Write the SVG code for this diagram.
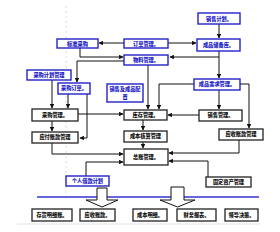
<svg xmlns="http://www.w3.org/2000/svg" width="280" height="232" viewBox="0 0 280 232">
<style>
.b rect{fill:#fff;stroke:#2323c8;stroke-width:1.4}
.k rect{fill:#fff;stroke:#222;stroke-width:1.3}
text{font-family:"Noto Sans CJK SC","Noto Sans",sans-serif;font-size:5.2px;font-weight:900;text-anchor:middle}
.b text{fill:#2323c8}
.k text{fill:#111}
#connectors path{fill:none;stroke:#111;stroke-width:1}
.blk{fill:#fff;stroke:#111;stroke-width:1}
</style>
<defs>
<marker id="ah" viewBox="0 0 8 8" refX="7" refY="4" markerWidth="4.5" markerHeight="4.5" orient="auto" markerUnits="userSpaceOnUse">
<path d="M0,0 L8,4 L0,8 z" fill="#111"/>
</marker>
</defs>
<rect width="280" height="232" fill="#fff"/>
<line x1="66" y1="6" x2="66" y2="200" stroke="#cfcfcf" stroke-width="0.8" stroke-dasharray="2,3"/>
<line x1="17" y1="224" x2="260" y2="224" stroke="#e2e2e2" stroke-width="1"/>
<line x1="37" y1="197" x2="259" y2="197" stroke="#3535d0" stroke-width="1.3"/>

<g id="connectors" marker-end="url(#ah)">
<path d="M219,24 V38"/>
<path d="M168,43 H196"/>
<path d="M124,43 H99"/>
<path d="M80,48 V57 H123"/>
<path d="M124,61 H77 V82"/>
<path d="M219,51 V57 H170"/>
<path d="M219,57 V78"/>
<path d="M52,80 V108"/>
<path d="M68,94 V108"/>
<path d="M87,94 V138 H80"/>
<path d="M78,114 H123"/>
<path d="M148,65 V109"/>
<path d="M194,84 H159 V109"/>
<path d="M240,84 H249 V128"/>
<path d="M219,90 V109"/>
<path d="M199,115 H168"/>
<path d="M52,121 V131"/>
<path d="M143,120 V130"/>
<path d="M143,142 V148"/>
<path d="M52,143 V154 H123"/>
<path d="M86,176 V162 H123"/>
<path d="M239,140 V153 H169"/>
<path d="M208,177 V161 H169"/>
</g>

<g id="n1" class="b"><rect x="198" y="13" width="42" height="11"/><text x="219" y="20.5">销售计划。</text></g>
<g id="n2" class="b"><rect x="57" y="39" width="41" height="9"/><text x="77.5" y="45.5">标准采购</text></g>
<g id="n3" class="b"><rect x="124" y="39" width="44" height="9"/><text x="146" y="45.5">订单管理。</text></g>
<g id="n4" class="b"><rect x="197" y="39" width="43" height="12"/><text x="218.5" y="46.8">成品储备库。</text></g>
<g id="n5" class="b"><rect x="124" y="55" width="44" height="10"/><text x="146" y="61.8">物料管理。</text></g>
<g id="n6" class="b"><rect x="27" y="70" width="44" height="10"/><text x="49" y="76.8">采购计划管理</text></g>
<g id="n7" class="b"><rect x="58" y="83" width="32" height="11"/><text x="74" y="90.3">采购订单。</text></g>
<g id="n8" class="b"><rect x="107" y="84" width="36" height="18"/><text x="125" y="91">销售及成品配</text><text x="125" y="98.5">置</text></g>
<g id="n9" class="b"><rect x="194" y="79" width="46" height="11"/><text x="217" y="86.3">成品需求管理。</text></g>
<g id="n10" class="k"><rect x="32" y="109" width="46" height="12"/><text x="55" y="116.8">采购管理。</text></g>
<g id="n11" class="k"><rect x="124" y="110" width="43" height="10"/><text x="145.5" y="116.8">库存管理。</text></g>
<g id="n12" class="k"><rect x="199" y="110" width="43" height="11"/><text x="220.5" y="117.3">销售管理。</text></g>
<g id="n13" class="k"><rect x="32" y="132" width="46" height="11"/><text x="55" y="139.3">应付账款管理</text></g>
<g id="n14" class="k"><rect x="124" y="131" width="43" height="11"/><text x="145.5" y="138.3">成本核算管理</text></g>
<g id="n15" class="k"><rect x="219" y="129" width="44" height="11"/><text x="241" y="136.3">应收账款管理</text></g>
<g id="n16" class="k"><rect x="124" y="149" width="44" height="16"/><text x="146" y="158.8">总账管理。</text></g>
<g id="n17" class="k"><rect x="206" y="177" width="45" height="10"/><text x="228.5" y="183.8">固定资产管理</text></g>
<g id="n18" class="b"><rect x="66" y="176" width="43" height="10"/><text x="87.5" y="182.8">个人借款计划</text></g>

<polygon class="blk" points="97,188 107,188 107,200 118,200 102,207 86,200 97,200"/>
<polygon class="blk" points="171,187 184,187 184,200 195,200 177.5,207 160,200 171,200"/>

<g id="n19" class="k"><rect x="32" y="209" width="40" height="12"/><text x="52" y="216.8">存货明细账。</text></g>
<g id="n20" class="k"><rect x="80" y="209" width="35" height="12"/><text x="97.5" y="216.8">应收账款。</text></g>
<g id="n21" class="k"><rect x="133" y="209" width="34" height="12"/><text x="150" y="216.8">成本明细。</text></g>
<g id="n22" class="k"><rect x="177" y="209" width="39" height="12"/><text x="196.5" y="216.8">财务报表。</text></g>
<g id="n23" class="k"><rect x="225" y="209" width="33" height="12"/><text x="241.5" y="216.8">领导决策。</text></g>
</svg>
